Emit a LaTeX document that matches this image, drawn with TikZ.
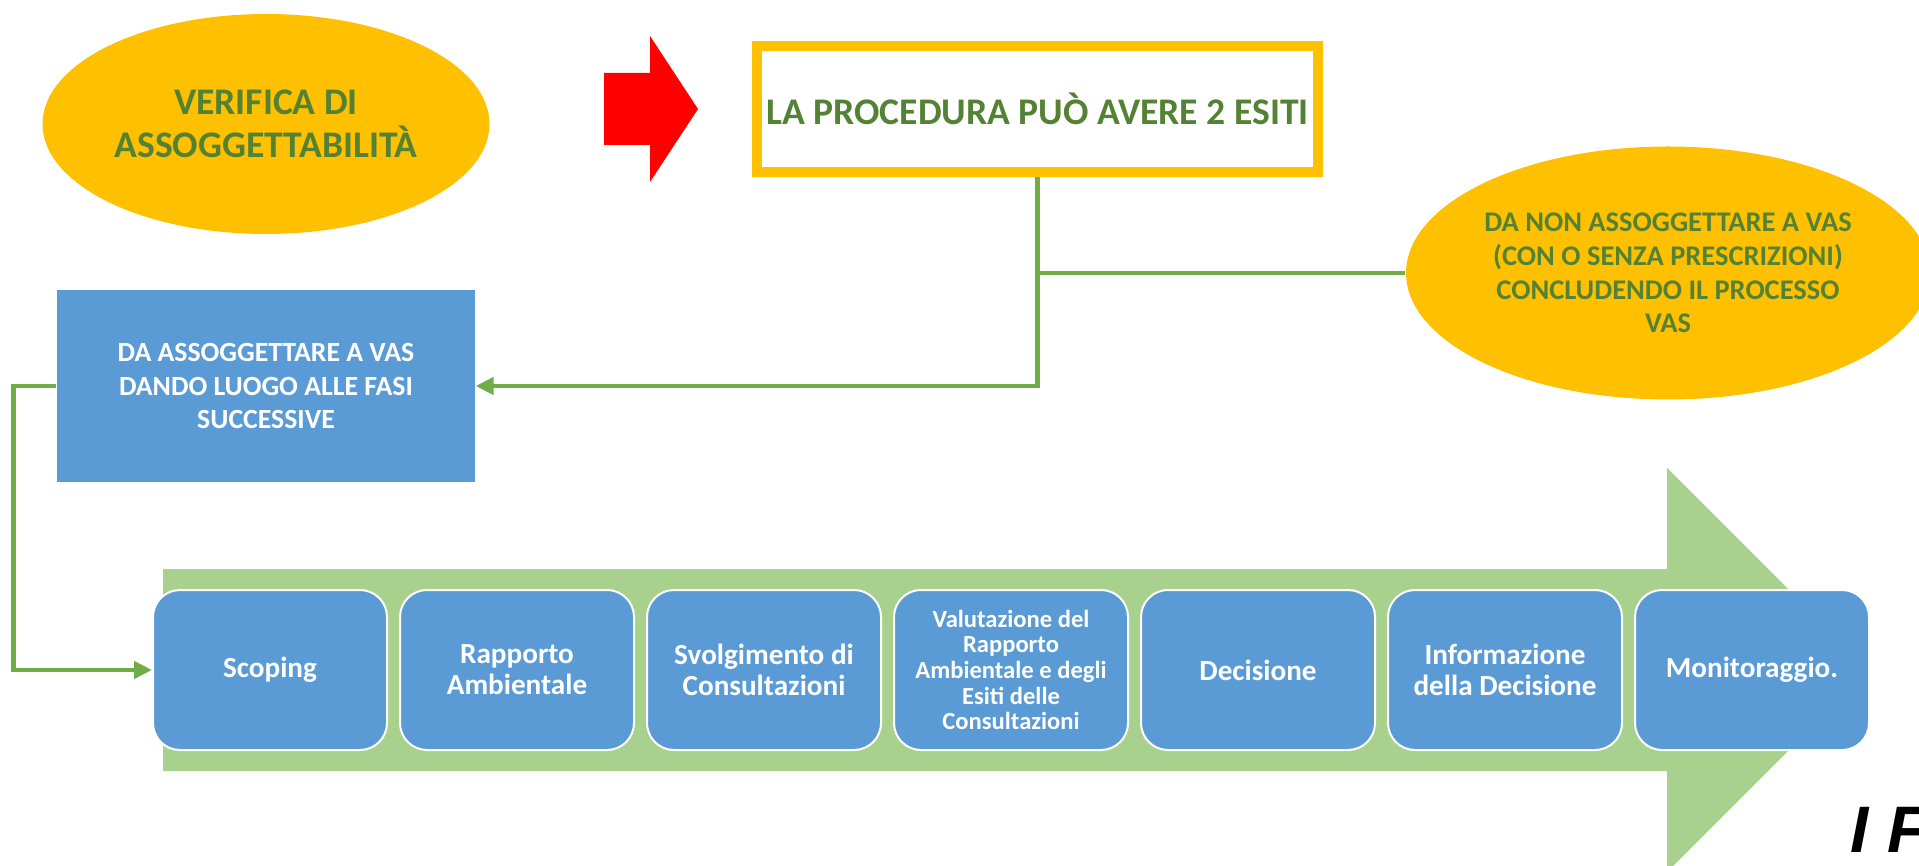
\documentclass[tikz,border=0pt]{standalone}
\usepackage{fontspec}
\setmainfont{Carlito}
\newfontfamily\arialfont{Liberation Sans}
\usepackage{xcolor}
\usetikzlibrary{shapes,arrows.meta,positioning}

\definecolor{giallo}{HTML}{FFC000}
\definecolor{verdescuro}{HTML}{548235}
\definecolor{verdelinea}{HTML}{70AD47}
\definecolor{verdino}{HTML}{A9D18E}
\definecolor{azzurro}{HTML}{5B9BD5}

\begin{document}
\begin{tikzpicture}[
    x=0.1mm, y=-0.1mm,
    oval/.style={ellipse, fill=giallo, inner sep=0pt, align=center, text=verdescuro},
    esito/.style={rectangle, draw=giallo, line width=1mm, fill=white, minimum width=56.1mm, minimum height=12.6mm, inner sep=0pt, text=verdescuro},
    block/.style={rectangle, fill=azzurro, text=white, align=center, minimum width=41.8mm, minimum height=19.2mm},
    phase/.style={rectangle, rounded corners=2.7mm, draw=white, line width=0.2mm, fill=azzurro, minimum width=23.4mm, minimum height=16mm, inner sep=0pt, text=white, align=center, font=\bfseries\fontsize{8.3}{8.8}\selectfont},
    arrow/.style={-{Triangle[length=1.8mm,width=1.7mm]}, line width=0.45mm, draw=verdelinea},
    link/.style={line width=0.45mm, draw=verdelinea}
]
\useasboundingbox (0,0) rectangle (1919,866);

% Big process arrow
\fill[verdino] (163,569) -- (1667,569) -- (1667,468) -- (1869,670) -- (1667,872) -- (1667,771) -- (163,771) -- cycle;

% Verifica
\node[oval, minimum width=44.7mm, minimum height=22mm, font=\bfseries\fontsize{10.7}{12.2}\selectfont] (verifica) at (266,124) {VERIFICA DI\\ASSOGGETTABILITÀ};
\fill[red] (604,73) -- (650,73) -- (650,36) -- (698,109) -- (650,182) -- (650,145) -- (604,145) -- cycle;
\node[esito, font=\bfseries\fontsize{10.7}{12}\selectfont] (procedura) at (1037.5,109) {LA PROCEDURA PUÒ AVERE 2 ESITI};

% Esiti
\node[oval, minimum width=52.4mm, minimum height=25.3mm, font=\bfseries\fontsize{8.1}{9.6}\selectfont] (nonvas) at (1668,273) {DA NON ASSOGGETTARE A VAS\\(CON O SENZA PRESCRIZIONI)\\CONCLUDENDO IL PROCESSO\\VAS};
\node[block, font=\bfseries\fontsize{7.9}{9.4}\selectfont] (vas) at (266,386) {DA ASSOGGETTARE A VAS\\DANDO LUOGO ALLE FASI\\SUCCESSIVE};

% Fasi
\node[phase] (scoping) at (270,670) {Scoping};
\node[phase] (rapporto) at (517,670) {Rapporto\\Ambientale};
\node[phase] (consultazioni) at (764,670) {Svolgimento di\\Consultazioni};
\node[phase, font=\bfseries\fontsize{7}{7.3}\selectfont] (valutazione) at (1011,670) {Valutazione del\\Rapporto\\Ambientale e degli\\Esiti delle\\Consultazioni};
\node[phase] (decisione) at (1258,670) {Decisione};
\node[phase] (informazione) at (1505,670) {Informazione\\della Decisione};
\node[phase] (monitoraggio) at (1752,670) {Monitoraggio.};

% Arrows
\draw[arrow] (procedura.south) |- (vas.east);
\draw[link] (procedura.south |- nonvas.west) -- (nonvas.west);
\draw[arrow] (vas.west) -- ++(-43,0) |- (scoping.west);

\node[anchor=base west, inner sep=0pt, font=\arialfont\bfseries\itshape\fontsize{18.7}{20}\selectfont] (fattori) at (1850,852) {I F};

\end{tikzpicture}
\end{document}
